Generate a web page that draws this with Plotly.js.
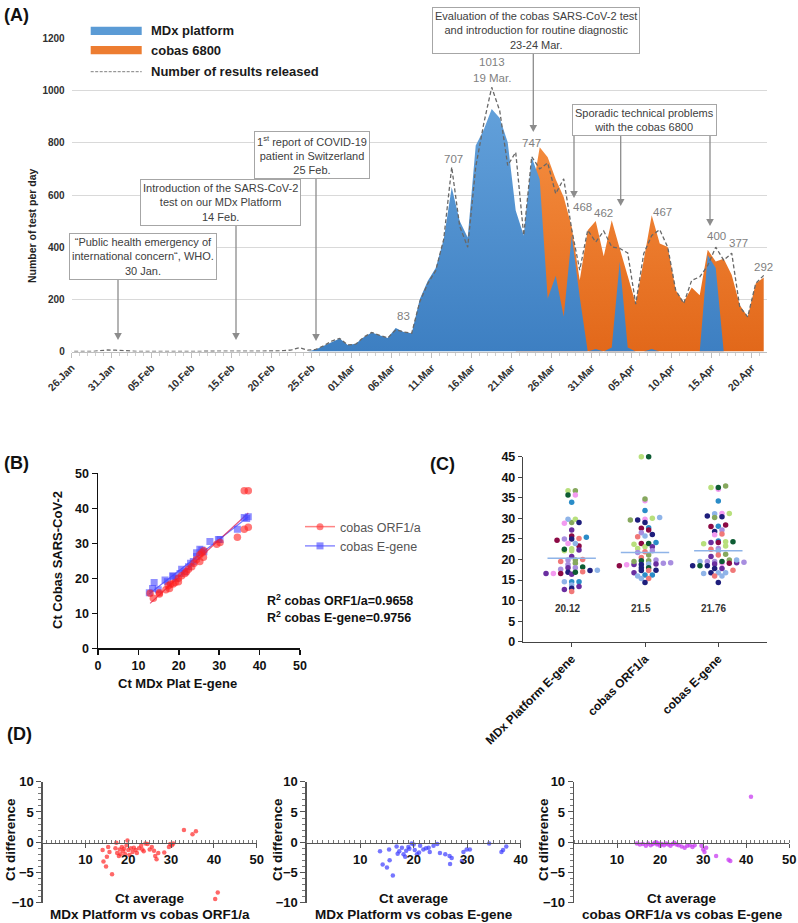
<!DOCTYPE html>
<html><head><meta charset="utf-8">
<script src="https://cdn.plot.ly/plotly-3.0.1.min.js"></script>
<style>html,body{margin:0;padding:0;background:#fff}#chart{width:798px;height:923px}</style>
</head><body><div id="chart"></div>
<script>
// ================= DATA =================
// Panel A : one value per day, day 0 = 26 Jan 2020 ... day 87 = 22 Apr 2020
const tickLabelsA = ['26.Jan','31.Jan','05.Feb','10.Feb','15.Feb','20.Feb','25.Feb','01.Mar','06.Mar','11.Mar','16.Mar','21.Mar','26.Mar','31.Mar','05.Apr','10.Apr','15.Apr','20.Apr'];
const mdxTests = [0,0,0,0,0,0,0,0,0,0, 0,0,0,0,0,0,0,0,0,0, 0,0,0,0,0,0,0,0,0,0,
  0,8,22,38,50,25,30,55,73,62, 52,90,75,70,200,270,320,430,630,500,
  437,790,850,930,895,802,541,445,745,660, 203,290,133,445,210,0,10,0,15,345,
  15,0,0,10,0,0,0,0,0,0, 370,320,0,0,0,0,0,0];
const cobasTests = [0,0,0,0,0,0,0,0,0,0, 0,0,0,0,0,0,0,0,0,0, 0,0,0,0,0,0,0,0,0,0,
  0,0,0,0,0,0,0,0,0,0, 0,0,0,0,0,0,0,0,0,0,
  0,0,0,0,0,0,0,300,600,783, 745,660,592,477,273,465,500,365,503,395,
  290,184,350,522,414,401,235,190,245,216, 390,345,356,293,178,133,261,284];
const resultsReleased = [0,0,0,0,3,6,5,3,0,0, 0,0,0,0,0,0,0,0,2,1, 0,2,1,0,0,0,2,3,6,15,
  5,8,22,40,50,25,28,55,73,62, 52,83,75,70,190,260,310,430,707,480,
  400,707,873,1013,923,713,764,445,747,700, 723,605,662,468,312,465,420,462,401,395,
  378,182,375,445,467,400,235,184,273,286, 330,400,350,377,171,133,261,292];
const labelledDays = [41,48,53,58,63,67,74,81,83,87];

// Panel B : Ct values
const bOrfMdx = [12.9,13.7,15.2,15.2,16.8,17.4,17.7,18.0,18.6,19.1,19.9,19.9,20.7,21.5,21.9,22.4,23.2,23.8,24.4,25.2,25.2,25.7,26.1,26.2,29.4,30.2,34.5,36.2,37.2,36.2,37.2];
const bOrfCobas = [15.7,14.3,15.5,15.9,16.7,17.9,17.1,18.4,18.4,18.8,19.0,20.0,20.7,21.4,21.9,22.6,23.3,24.3,25.4,26.7,24.8,27.3,26.0,27.9,29.7,30.2,31.7,34.0,34.6,45.0,45.0];
const bEMdx = [12.7,13.5,13.9,14.9,16.6,17.2,18.5,18.6,19.3,20.3,20.7,21.5,22.4,22.9,23.6,24.4,24.4,25.2,25.7,26.2,27.7,29.8,30.2,34.5,36.2,36.8,37.2];
const bECobas = [15.9,17.1,18.8,16.7,19.5,19.0,20.7,20.5,20.0,21.4,22.6,21.9,23.3,24.3,24.8,26.2,27.3,28.3,28.1,27.6,30.5,31.1,31.1,34.0,37.4,37.1,37.6];
const r2Labels = ['R<sup>2</sup> cobas ORF1/a=0.9658','R<sup>2</sup> cobas E-gene=0.9756'];

// Panel C : Ct per sample, colour index = sample
const cCategories = ['MDx Platform E-gene','cobas ORF1/a','cobas E-gene'];
const cMeanLines = [20.3, 21.7, 22.1];
const cMeanLabels = ['20.12','21.5','21.76'];
const cMdxCt = [36.7,36.7,35.7,35.7,33.9,29.0,29.8,29.8,29.0,28.8,27.2,25.7,25.1,24.7,25.0,25.0,25.4,23.3,23.9,23.9,22.6,22.1,22.5,22.3,22.1,20.7,20.0,19.5,19.9,19.9,18.8,19.1,18.0,18.2,18.0,17.4,17.3,17.6,16.9,16.6,16.6,16.4,16.9,17.0,16.6,14.6,14.6,14.6,13.8,13.4,13.0,12.7,12.2];
const cMdxCol = [1,3,2,4,5,3,6,1,7,4,8,9,0,9,10,7,5,9,4,6,1,1,2,8,1,8,0,0,10,3,10,3,8,2,10,6,7,10,7,8,4,8,2,0,9,6,5,5,6,8,7,8,0];
const cOrfCt = [45,45,34.3,34.7,31.9,30.2,29.6,30.0,29.8,29.6,29.0,27.7,27.2,27.6,26.5,26.1,25.5,25.7,23.9,23.1,22.7,23.9,23.7,24.1,23.1,22.1,21.7,21.1,21.9,20.5,19.7,19.9,19.7,19.2,18.8,18.8,18.9,18.9,19.5,19.1,18.7,18.0,18.0,18.5,17.3,17.4,17.3,16.8,16.2,16.0,15.4,16.2,15.4,14.4];
const cOrfCol = [1,2,4,3,5,6,3,1,4,7,7,5,9,9,10,7,0,6,9,1,1,2,1,5,8,10,10,3,0,0,2,10,3,10,8,7,6,8,3,10,4,7,2,9,7,7,0,8,5,6,6,5,0,7];
const cECt = [37.1,37.5,37.9,37.5,34.2,31.2,31.2,31.1,30.4,30.2,30.6,28.4,28.1,28.0,27.2,26.8,26.2,26.0,24.3,24.5,23.8,24.1,24.3,24.1,23.3,22.7,22.5,22.1,21.1,20.7,21.3,19.9,19.2,19.1,19.5,19.5,19.3,19.1,19.5,19.5,19.9,18.9,18.5,18.5,18.5,17.8,17.8,17.4,16.8,16.8,16.8,16.6,16.0,16.0,14.4];
const cECol = [4,1,3,2,5,4,1,6,7,3,7,9,5,9,10,7,0,4,1,5,1,8,2,9,1,10,0,6,0,8,3,3,8,4,6,10,10,9,10,2,6,8,7,2,7,7,8,0,7,6,6,6,0,6,7];
const sampleColours = ['#f07878','#b8e07c','#0d5c33','#86a85e','#f39af0','#2a8cc8','#8fb4e8','#1e1e7c','#6a2ea0','#8c0a45','#a88ee0'];

// Panel D : Bland-Altman (average, difference)
const d1Avg = [14.0,14.2,14.8,15.0,15.3,15.6,16.2,17.0,17.2,17.4,17.8,18.0,18.2,18.5,18.8,19.0,19.3,19.6,19.8,20.0,20.3,20.6,21.0,21.3,21.7,22.0,22.5,23.0,23.3,23.6,24.0,24.5,25.0,25.5,26.0,26.3,26.6,27.0,28.4,29.5,29.8,30.2,30.5,33.0,35.0,35.8,40.3,40.9];
const d1Diff = [-1.3,-3.2,-4.0,-2.4,-0.8,-1.6,-5.3,-1.0,-0.1,-1.8,-2.3,-1.2,-2.0,-0.8,-1.5,-1.1,-2.0,-0.5,0.3,-1.3,-2.1,-1.0,-1.6,-0.9,-1.3,-1.8,-1.0,-0.6,-1.2,-1.5,-0.2,-0.3,-1.2,-0.8,-1.4,-2.3,-2.8,-1.8,-1.7,-0.8,-0.3,-0.5,-0.2,2.0,1.3,1.8,-9.4,-8.3];
const d2Avg = [13.7,14.2,15.0,15.4,15.5,16.1,16.8,17.0,17.3,17.8,18.1,18.4,18.6,19.0,19.2,19.6,20.0,20.2,20.6,21.0,21.2,21.8,22.3,22.8,23.0,23.7,24.4,24.9,25.9,26.7,26.8,27.1,29.0,29.3,29.9,30.5,34.1,36.4,36.7,37.3];
const d2Diff = [-1.5,-3.7,-4.2,-1.2,-3.0,-5.5,-0.7,-1.9,-1.5,-0.9,-2.0,-2.4,-1.4,-0.8,-1.1,-0.2,-0.4,-1.3,-2.0,-1.7,-0.6,-1.2,-1.0,-0.9,-1.6,-0.6,-0.3,-1.8,-2.0,-2.3,-3.6,-2.6,-3.1,-1.6,-1.2,-1.2,-0.2,-1.6,-1.3,-0.7];
const d3Avg = [14.6,15.3,16.0,16.7,17.2,17.8,18.3,18.8,19.1,19.3,19.6,20.0,20.4,20.9,21.4,21.9,22.4,22.9,23.3,23.8,24.3,25.0,25.7,26.3,26.9,27.5,28.0,29.6,30.0,30.3,30.7,33.0,35.9,36.3,41.1];
const d3Diff = [-0.2,-0.4,-0.3,-0.6,-0.2,-0.5,-0.3,-0.1,0.0,-0.4,-0.2,-0.6,-0.3,-0.5,-0.2,-0.4,-0.6,-0.3,-0.1,-0.4,-0.5,-0.7,-0.9,-0.6,-0.5,-0.8,-0.5,-0.6,-1.2,-1.6,-0.9,-2.3,-2.9,-3.1,7.5];
const dTitles = ['MDx Platform vs cobas ORF1/a','MDx Platform vs cobas E-gene','cobas ORF1/a vs cobas E-gene'];

// ================= HELPERS =================
const W = 798, H = 923;
const px = v => v / W;
const py = v => 1 - v / H;
const FONT = 'Liberation Sans, Arial, Helvetica, sans-serif';
const dayIdx = mdxTests.map((_, i) => i);

function swarm(values, binW, step) {
  const idx = values.map((v, i) => i).sort((a, b) => values[a] - values[b]);
  const bins = {};
  idx.forEach(i => { const b = Math.round(values[i] / binW); (bins[b] = bins[b] || []).push(i); });
  const off = new Array(values.length).fill(0);
  Object.values(bins).forEach(list => {
    const n = list.length;
    list.forEach((i, k) => { off[i] = (k - (n - 1) / 2) * step; });
  });
  return off;
}
function fit(xs, ys) {
  const n = xs.length, mx = xs.reduce((a, b) => a + b) / n, my = ys.reduce((a, b) => a + b) / n;
  let sxy = 0, sxx = 0;
  xs.forEach((x, i) => { sxy += (x - mx) * (ys[i] - my); sxx += (x - mx) * (x - mx); });
  const b = sxy / sxx, a = my - b * mx;
  const x0 = Math.min(...xs), x1 = Math.max(...xs);
  return { x: [x0, x1], y: [a + b * x0, a + b * x1] };
}

// ================= TRACES =================
const traces = [];
// Panel A
traces.push({ x: dayIdx, y: cobasTests, type: 'scatter', mode: 'lines', fill: 'tozeroy', line: { width: 0, color: '#ed7d31' },
  fillgradient: { type: 'vertical', colorscale: [[0, '#e2681a'], [1, '#f38a3c']] }, xaxis: 'x', yaxis: 'y', showlegend: false, hoverinfo: 'skip' });
traces.push({ x: dayIdx, y: mdxTests, type: 'scatter', mode: 'lines', fill: 'tozeroy', line: { width: 0, color: '#5b9bd5' },
  fillgradient: { type: 'vertical', colorscale: [[0, '#3d7fc2'], [1, '#62a0da']] }, xaxis: 'x', yaxis: 'y', showlegend: false, hoverinfo: 'skip' });
traces.push({ x: dayIdx, y: resultsReleased, type: 'scatter', mode: 'lines', line: { width: 1.3, color: '#686868', dash: '4px,2.5px' },
  xaxis: 'x', yaxis: 'y', showlegend: false, hoverinfo: 'skip' });

// Panel B
const fE = fit(bEMdx, bECobas), fO = fit(bOrfMdx, bOrfCobas);
traces.push({ x: fE.x, y: fE.y, type: 'scatter', mode: 'lines', line: { color: 'rgba(80,80,255,0.8)', width: 1.2 }, xaxis: 'x2', yaxis: 'y2', showlegend: false });
traces.push({ x: fO.x, y: fO.y, type: 'scatter', mode: 'lines', line: { color: 'rgba(220,40,90,0.8)', width: 1.2 }, xaxis: 'x2', yaxis: 'y2', showlegend: false });
traces.push({ x: bEMdx, y: bECobas, type: 'scatter', mode: 'markers', marker: { symbol: 'square', size: 7, color: 'rgba(70,70,255,0.6)' }, xaxis: 'x2', yaxis: 'y2', showlegend: false });
traces.push({ x: bOrfMdx, y: bOrfCobas, type: 'scatter', mode: 'markers', marker: { symbol: 'circle', size: 7.5, color: 'rgba(255,30,30,0.6)' }, xaxis: 'x2', yaxis: 'y2', showlegend: false });
traces.push({ x: [null], y: [null], type: 'scatter', mode: 'lines+markers', name: 'cobas ORF1/a', line: { color: 'rgba(255,80,80,0.7)', width: 1.5 }, marker: { size: 7, color: 'rgba(255,60,60,0.65)' }, xaxis: 'x2', yaxis: 'y2', showlegend: true });
traces.push({ x: [null], y: [null], type: 'scatter', mode: 'lines+markers', name: 'cobas E-gene', line: { color: 'rgba(90,90,255,0.7)', width: 1.5 }, marker: { size: 7, symbol: 'square', color: 'rgba(80,80,255,0.65)' }, xaxis: 'x2', yaxis: 'y2', showlegend: true });

// Panel C
[[cMdxCt, cMdxCol], [cOrfCt, cOrfCol], [cECt, cECol]].forEach(([vals, cols], ci) => {
  const off = swarm(vals, 1.0, 0.1);
  traces.push({ x: vals.map((v, i) => ci + off[i]), y: vals, type: 'scatter', mode: 'markers', cliponaxis: false,
    marker: { size: 5.5, color: cols.map(c => sampleColours[c]) }, xaxis: 'x3', yaxis: 'y3', showlegend: false, hoverinfo: 'y' });
  traces.push({ x: [ci - 0.33, ci + 0.33], y: [cMeanLines[ci], cMeanLines[ci]], type: 'scatter', mode: 'lines',
    line: { color: '#8fb4e8', width: 1.5 }, xaxis: 'x3', yaxis: 'y3', showlegend: false });
});

// Panel D
[[d1Avg, d1Diff, 'rgba(255,40,40,0.7)'], [d2Avg, d2Diff, 'rgba(60,60,255,0.7)'], [d3Avg, d3Diff, 'rgba(200,60,240,0.75)']].forEach(([xs, ys, c], k) => {
  traces.push({ x: xs, y: ys, type: 'scatter', mode: 'markers', marker: { size: 4.5, color: c }, xaxis: 'x' + (4 + k), yaxis: 'y' + (4 + k), showlegend: false });
});

// ================= LAYOUT =================
const boldTick = (s, c) => ({ family: FONT, size: s, weight: 'bold', color: c || '#111' });
const layout = {
  width: W, height: H, margin: { l: 0, r: 0, t: 0, b: 0 }, paper_bgcolor: '#fff', plot_bgcolor: 'rgba(0,0,0,0)',
  font: { family: FONT, color: '#222' },
  showlegend: true,
  legend: { x: px(300), y: py(512), xanchor: 'left', yanchor: 'top', font: { family: FONT, size: 12.5, color: '#555' }, bgcolor: 'rgba(0,0,0,0)', itemwidth: 30, tracegroupgap: 2 },
  xaxis: { domain: [px(71.7), px(767)], range: [0.5, 87.41], anchor: 'y',
    tickvals: tickLabelsA.map((_, i) => i * 5 + 0.5), ticktext: tickLabelsA, tickangle: -45, tickfont: boldTick(10.5, '#303030'),
    showline: true, linecolor: '#bfbfbf', linewidth: 1, ticks: 'outside', ticklen: 5, tickcolor: '#bfbfbf',
    minor: { dtick: 1, tick0: 0.5, ticks: 'outside', ticklen: 3, tickcolor: '#cfcfcf' }, showgrid: false, zeroline: false },
  yaxis: { domain: [py(351.5), py(38.5)], range: [0, 1200], anchor: 'x', tickvals: [0, 200, 400, 600, 800, 1000, 1200],
    tickfont: boldTick(10, '#303030'), showgrid: true, gridcolor: '#d9d9d9', gridwidth: 1, showline: false, zeroline: false, ticks: '', ticklabelstandoff: 6 },
  xaxis2: { domain: [px(98), px(300)], range: [0, 50], anchor: 'y2', dtick: 10, showline: true, linecolor: '#111', linewidth: 1.5,
    ticks: 'outside', ticklen: 5, tickwidth: 1.5, tickcolor: '#111', tickfont: boldTick(12.5), showgrid: false, zeroline: false },
  yaxis2: { domain: [py(648.3), py(473.3)], range: [0, 50], anchor: 'x2', dtick: 10, showline: true, linecolor: '#111', linewidth: 1.5,
    ticks: 'outside', ticklen: 5, tickwidth: 1.5, tickcolor: '#111', tickfont: boldTick(12.5), showgrid: false, zeroline: false },
  xaxis3: { domain: [px(523.3), px(766.7)], range: [-0.66, 2.66], anchor: 'y3', tickvals: [0, 1, 2], ticktext: cCategories, tickangle: -45,
    showline: true, linecolor: '#444', linewidth: 1.5, ticks: 'outside', ticklen: 4, tickcolor: '#444', tickfont: boldTick(12), showgrid: false, zeroline: false },
  yaxis3: { domain: [py(641.7), py(456.7)], range: [0, 45], anchor: 'x3', dtick: 5, showline: true, linecolor: '#444', linewidth: 1.5,
    ticks: 'outside', ticklen: 4, tickcolor: '#444', tickfont: boldTick(12.5), showgrid: false, zeroline: false },
  annotations: [], shapes: []
};
// Panel D axes
const dX = [[42.7, 256.7, 50], [306.7, 520.7, 40], [574, 789.3, 50]];
dX.forEach(([a, b, max], k) => {
  const n = 4 + k;
  layout['xaxis' + n] = { domain: [px(a), px(b)], range: [0, max], anchor: 'free', position: py(842.7),
    tickvals: [10, 20, 30, 40, 50].filter(v => v <= max), showline: true, linecolor: '#555', linewidth: 1.3,
    ticks: 'outside', ticklen: 4, tickcolor: '#555', minor: { dtick: 1, ticks: 'inside', ticklen: 3, tickcolor: '#777' },
    tickfont: boldTick(13), showgrid: false, zeroline: false };
  layout['yaxis' + n] = { domain: [py(902.7), py(781.7)], range: [-10, 10], anchor: 'x' + n, tickvals: [-10, -5, 0, 5, 10],
    showline: true, linecolor: '#555', linewidth: 1.3, ticks: 'outside', ticklen: 5, tickcolor: '#555',
    minor: { dtick: 1, ticks: 'outside', ticklen: 3, tickcolor: '#777' }, tickfont: boldTick(13), showgrid: false, zeroline: false };
});

const ann = layout.annotations, shp = layout.shapes;
const T = (text, x, y, o) => ann.push(Object.assign({ text, x: px(x), y: py(y), xref: 'paper', yref: 'paper', showarrow: false, xanchor: 'center', yanchor: 'middle' }, o || {}));
// panel letters
T('(A)', 16, 15, { font: { size: 18, weight: 'bold', color: '#111' } });
T('(B)', 16, 463, { font: { size: 18, weight: 'bold', color: '#111' } });
T('(C)', 442, 464, { font: { size: 18, weight: 'bold', color: '#111' } });
T('(D)', 19, 734, { font: { size: 18, weight: 'bold', color: '#111' } });

// Panel A legend
shp.push({ type: 'rect', xref: 'paper', yref: 'paper', x0: px(90.7), x1: px(141.7), y0: py(35), y1: py(26.7), fillcolor: '#5b9bd5', line: { width: 0 } });
shp.push({ type: 'rect', xref: 'paper', yref: 'paper', x0: px(90.7), x1: px(141.7), y0: py(54.3), y1: py(46), fillcolor: '#ed7d31', line: { width: 0 } });
shp.push({ type: 'line', xref: 'paper', yref: 'paper', x0: px(90.7), x1: px(141.7), y0: py(71.7), y1: py(71.7), line: { color: '#7f7f7f', width: 1, dash: '3px,1.5px' } });
const legFont = { size: 13, weight: 'bold', color: '#1a1a1a' };
T('MDx platform', 149, 30.5, { xanchor: 'left', font: legFont });
T('cobas 6800', 149, 50.5, { xanchor: 'left', font: legFont });
T('Number of results released', 149, 71.5, { xanchor: 'left', font: legFont });
T('Number of test per day', 32, 226, { textangle: -90, font: { size: 10.5, weight: 'bold', color: '#222' } });

// Panel A event boxes
const boxOpt = { bordercolor: '#a6a6a6', borderwidth: 1, borderpad: 2, bgcolor: '#fff', font: { size: 11, color: '#404040' } };
T('Evaluation of the cobas SARS-CoV-2 test<br>and introduction for routine diagnostic<br>23-24 Mar.', 535.8, 30.5, boxOpt);
T('Sporadic technical problems<br>with the cobas 6800', 644, 119.5, boxOpt);
T('1<sup>st</sup> report of COVID-19<br>patient in Switzerland<br>25 Feb.', 312, 155, boxOpt);
T('Introduction of the SARS-CoV-2<br>test on our MDx Platform<br>14 Feb.', 220.7, 202.5, boxOpt);
T('“Public health emergency of<br>international concern“, WHO.<br>30 Jan.', 143.3, 256.7, boxOpt);
// arrows (line + triangular head) from the boxes down to the curve
const arrows = [[533.3, 52, 132], [574, 133.3, 198], [620.7, 133.3, 206], [710, 133.3, 226], [316, 176, 341], [236, 223.3, 340], [118, 278.3, 340]];
arrows.forEach(([x, y0, y1]) => {
  shp.push({ type: 'line', xref: 'paper', yref: 'paper', x0: px(x), x1: px(x), y0: py(y0), y1: py(y1 - 6), line: { color: '#8c8c8c', width: 1.3 } });
  shp.push({ type: 'path', xref: 'paper', yref: 'paper',
    path: `M ${px(x - 3.8)} ${py(y1 - 7)} L ${px(x + 3.8)} ${py(y1 - 7)} L ${px(x)} ${py(y1)} Z`, fillcolor: '#8c8c8c', line: { width: 0 } });
});
// value labels on the released curve
const labelPos = [[403.3, 316], [453, 159], [491.7, 62], [531.7, 143], [582.7, 206.7], [603.3, 213], [662.7, 212], [716, 236], [738.3, 243], [763, 267]];
labelledDays.forEach((d, i) => {
  const t = String(resultsReleased[d]);
  T(t, labelPos[i][0], labelPos[i][1], { font: { size: 11.5, color: '#7f7f7f' } });
});
T('19 Mar.', 491.7, 78, { font: { size: 11.5, color: '#7f7f7f' } });

// Panel B texts
T('Ct Cobas SARS-CoV-2', 57, 560, { textangle: -90, font: { size: 13, weight: 'bold', color: '#111' } });
T('Ct MDx Plat E-gene', 177, 683, { font: { size: 13, weight: 'bold', color: '#111' } });
T(r2Labels[0], 265, 600, { xanchor: 'left', font: { size: 12.5, weight: 'bold', color: '#111' } });
T(r2Labels[1], 265, 617, { xanchor: 'left', font: { size: 12.5, weight: 'bold', color: '#111' } });

// Panel C mean labels
cMeanLabels.forEach((t, i) => ann.push({ text: t, x: i - 0.06, y: 8.0, xref: 'x3', yref: 'y3', showarrow: false, font: { size: 10, weight: 'bold', color: '#333' } }));

// Panel D titles
const dYt = [10, 277, 543], dXc = [150, 414, 682];
dTitles.forEach((t, k) => {
  T('Ct difference', dYt[k], 840, { textangle: -90, font: { size: 13.5, weight: 'bold', color: '#111' } });
  T('Ct average', dXc[k], 898, { font: { size: 13.5, weight: 'bold', color: '#111' } });
  T(t, dXc[k], 914.5, { font: { size: 13.5, weight: 'bold', color: '#111' } });
});

Plotly.newPlot('chart', traces, layout, { staticPlot: true, displayModeBar: false });
</script></body></html>
